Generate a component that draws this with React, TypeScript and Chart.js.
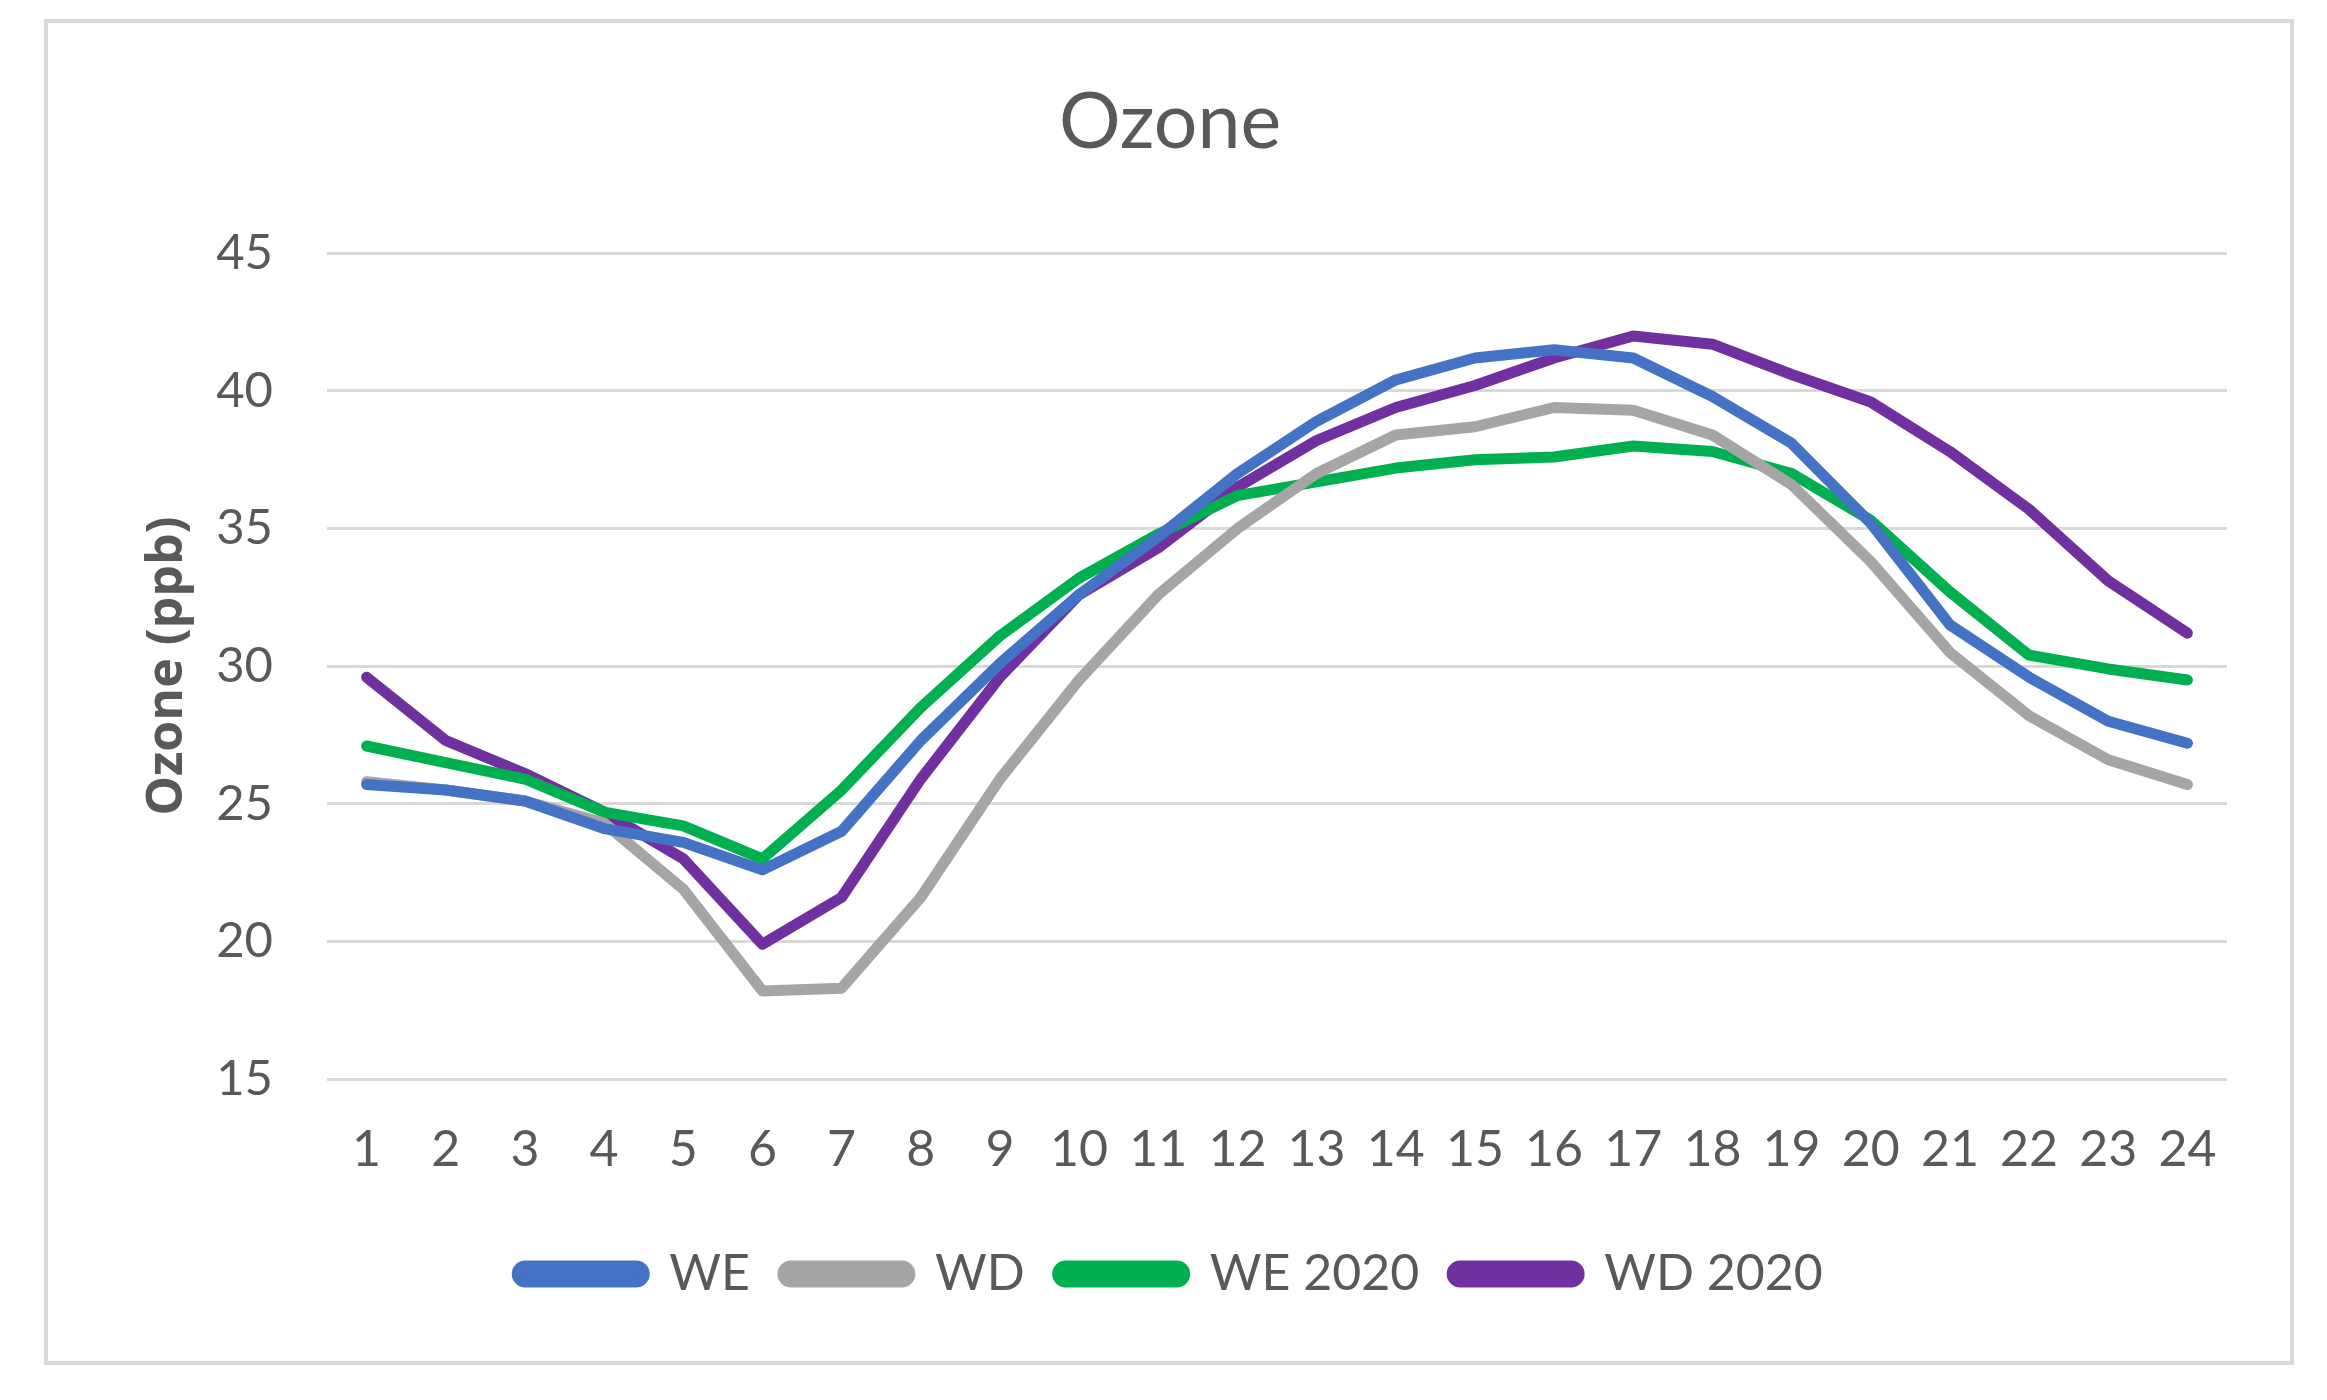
import React, { useEffect, useRef } from "react";
import { Chart, registerables } from "chart.js";

Chart.register(...registerables);

const hours = ["1", "2", "3", "4", "5", "6", "7", "8", "9", "10", "11", "12", "13", "14", "15", "16", "17", "18", "19", "20", "21", "22", "23", "24"];

const weValues = [25.7, 25.5, 25.1, 24.1, 23.6, 22.6, 24.0, 27.3, 30.1, 32.6, 34.7, 37.0, 38.9, 40.4, 41.2, 41.5, 41.2, 39.8, 38.1, 35.2, 31.5, 29.6, 28.0, 27.2];
const wdValues = [25.8, 25.5, 25.1, 24.3, 21.9, 18.2, 18.3, 21.6, 25.9, 29.5, 32.6, 35.0, 37.0, 38.4, 38.7, 39.4, 39.3, 38.4, 36.6, 33.8, 30.5, 28.2, 26.6, 25.7];
const we2020Values = [27.1, 26.5, 25.9, 24.7, 24.2, 23.0, 25.5, 28.5, 31.1, 33.2, 34.8, 36.2, 36.7, 37.2, 37.5, 37.6, 38.0, 37.8, 37.0, 35.3, 32.7, 30.4, 29.9, 29.5];
const wd2020Values = [29.6, 27.3, 26.1, 24.7, 23.0, 19.9, 21.6, 25.9, 29.6, 32.6, 34.3, 36.5, 38.2, 39.4, 40.2, 41.2, 42.0, 41.7, 40.6, 39.6, 37.8, 35.7, 33.1, 31.2];

const seriesNames = ["WE", "WD", "WE 2020", "WD 2020"];
const seriesColors = ["#4472C4", "#A5A5A5", "#00B050", "#7030A0"];

const yMin = 15;
const yMax = 45;
const yStep = 5;

const chartTitle = "Ozone";
const yAxisTitle = "Ozone (ppb)";

const textColor = "#595959";
const gridColor = "#D9D9D9";

const framePlugin = {
  id: "frameAndYTitle",
  beforeDraw(chart: any) {
    const ctx = chart.ctx;
    ctx.save();
    ctx.fillStyle = "#FFFFFF";
    ctx.fillRect(0, 0, chart.width, chart.height);
    ctx.strokeStyle = "#D9D9D9";
    ctx.lineWidth = 4;
    ctx.strokeRect(46, 21, 2246, 1342);
    ctx.restore();
  },
  afterDraw(chart: any) {
    const ctx = chart.ctx;
    const area = chart.chartArea;
    ctx.save();
    ctx.translate(168, (area.top + area.bottom) / 2);
    ctx.rotate(-Math.PI / 2);
    ctx.fillStyle = textColor;
    ctx.font = "bold 50px 'Open Sans'";
    ctx.textAlign = "center";
    ctx.textBaseline = "middle";
    ctx.fillText(yAxisTitle, 0, 0);
    ctx.restore();
  },
};

export default function App() {
  const canvasRef = useRef<HTMLCanvasElement | null>(null);

  useEffect(() => {
    if (!canvasRef.current) return;
    const values = [weValues, wdValues, we2020Values, wd2020Values];
    const chart = new Chart(canvasRef.current, {
      type: "line",
      data: {
        labels: hours,
        datasets: seriesNames.map((name, i) => ({
          label: name,
          data: values[i],
          borderColor: seriesColors[i],
          backgroundColor: seriesColors[i],
          borderWidth: 11,
          pointRadius: 0,
          pointHoverRadius: 0,
          tension: 0,
          borderCapStyle: "round" as const,
          borderJoinStyle: "round" as const,
          fill: false,
        })),
      },
      options: {
        animation: false,
        responsive: true,
        maintainAspectRatio: false,
        devicePixelRatio: 1,
        layout: { padding: { left: 113, right: 100, top: 0, bottom: 91 } },
        plugins: {
          title: {
            display: true,
            text: chartTitle,
            color: textColor,
            font: { family: "Lato", size: 77, weight: "normal" },
            padding: { top: 77, bottom: 84 },
          },
          legend: {
            display: true,
            position: "bottom",
            labels: {
              color: textColor,
              font: { family: "Lato", size: 50 },
              boxWidth: 127,
              boxHeight: 16,
              padding: 33,
              useBorderRadius: true,
              borderRadius: 8,
            },
          },
          tooltip: { enabled: false },
        },
        scales: {
          x: {
            offset: true,
            grid: { display: false, drawTicks: false },
            border: { display: false },
            ticks: {
              color: textColor,
              font: { family: "Lato", size: 50 },
              padding: 41,
              maxRotation: 0,
              autoSkip: false,
            },
            afterFit: (scale: any) => {
              scale.height = 137;
            },
          },
          y: {
            min: yMin,
            max: yMax,
            grid: { color: gridColor, lineWidth: 3, drawTicks: false },
            border: { display: false },
            ticks: {
              stepSize: yStep,
              color: textColor,
              font: { family: "Lato", size: 49 },
              padding: 54,
            },
            afterFit: (scale: any) => {
              scale.width = 214;
            },
          },
        },
      },
      plugins: [framePlugin],
    });
    return () => chart.destroy();
  }, []);

  return (
    <div style={{ position: "absolute", left: 0, top: 0, width: 2327, height: 1400 }}>
      <canvas ref={canvasRef} />
    </div>
  );
}
